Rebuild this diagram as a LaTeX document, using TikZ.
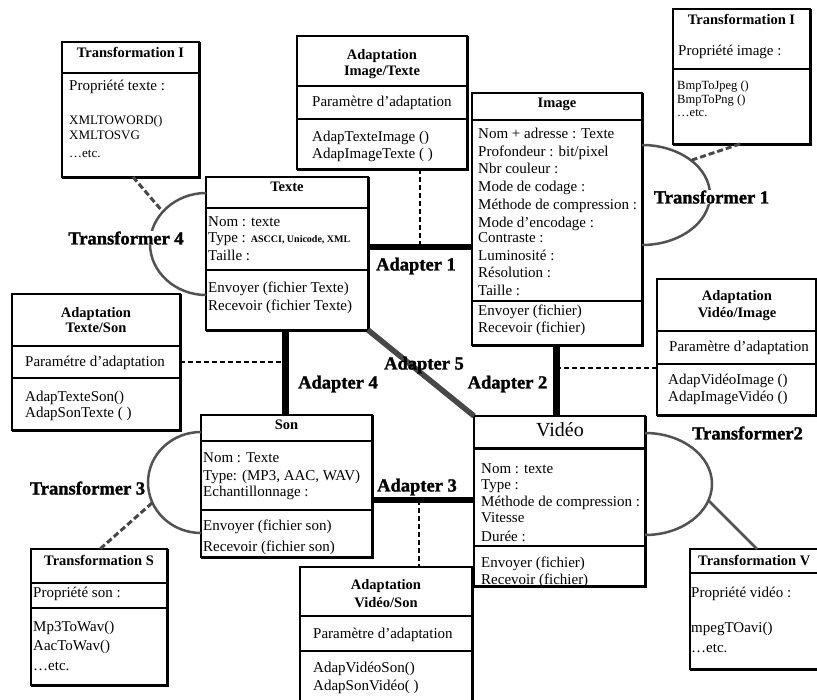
\documentclass[tikz,border=0pt]{standalone}
\usepackage{fontspec}
\setmainfont{Liberation Serif}
\newfontfamily\heavyfont[FakeBold=1.5]{Liberation Serif}
\begin{document}
\begin{tikzpicture}[x=1pt,y=-1pt,
  box/.style={draw, rectangle, line width=1.2pt, inner sep=0pt, outer sep=0pt},
  sepline/.style={line width=1.1pt},
  txt/.style={anchor=base west, inner sep=0pt, font=\fontsize{15}{17}\selectfont},
  ctxt/.style={anchor=base, inner sep=0pt, font=\fontsize{15}{17}\selectfont},
  smalltxt/.style={anchor=base west, inner sep=0pt, font=\fontsize{12.5}{14}\selectfont},
  ttl/.style={anchor=base, inner sep=0pt, font=\bfseries\fontsize{14.5}{17}\selectfont},
  lbl/.style={anchor=base, inner sep=0.5pt, font=\heavyfont\bfseries\fontsize{18.5}{20}\selectfont},
  adapter/.style={line width=6pt},
  adapterv/.style={line width=7pt},
  adapfive/.style={line width=5.5pt, draw=black!72},
  trans/.style={line width=2.5pt, draw=black!68},
  transdash/.style={line width=3pt, draw=black!72, dash pattern=on 6pt off 3pt},
  adash/.style={line width=2pt, dash pattern=on 5pt off 3pt}]
\newcommand\umlbox[5]{%
  \node[box, minimum width={#4-#2}, minimum height={#5-#3}, anchor=north west] (#1) at (#2,#3) {};
  \draw[line width=1.3pt] ([xshift=1pt]#1.north east) -- ([shift={(1pt,-1pt)}]#1.south east) -- ([yshift=-1pt]#1.south west);}
\newcommand\sepat[2]{\draw[sepline] (#1.west |- 0,#2) -- (#1.east |- 0,#2);}
\useasboundingbox (0,0) rectangle (817,700);
\clip (0,0) rectangle (817,700);
\fill[white] (0,0) rectangle (817,700);

% ---- Transformation I (texte)
\umlbox{trI}{62}{42}{199}{177}
\sepat{trI}{73}
\node[ttl] (trIt) at (130.5,58) {Transformation I};
\node[txt] (trI1) at (69,91) {Propriété texte :};
\node[txt,font=\fontsize{13}{15}\selectfont] (trI2) at (69,125) {XMLTOWORD()};
\node[txt,font=\fontsize{13}{15}\selectfont] (trI3) at (69,140) {XMLTOSVG};
\node[txt,font=\fontsize{13}{15}\selectfont] (trI4) at (69,158) {…etc.};

% ---- Adaptation Image/Texte
\umlbox{adIT}{297}{36}{467}{169}
\sepat{adIT}{86}
\sepat{adIT}{119}
\node[ttl] (adITt1) at (382,60) {Adaptation};
\node[ttl] (adITt2) at (382,76) {Image/Texte};
\node[txt] (adIT1) at (312,107) {Paramètre d’adaptation};
\node[txt] (adIT2) at (312,142) {AdapTexteImage ()};
\node[txt] (adIT3) at (312,159) {AdapImageTexte ( )};

% ---- Image
\umlbox{image}{472}{93}{642}{345}
\sepat{image}{120}
\sepat{image}{301}
\node[ttl] (imaget) at (557,108) {Image};
\node[txt] (im1) at (478,138.5) {Nom + adresse : Texte};
\node[txt] (im2) at (478,156.5) {Profondeur : bit/pixel};
\node[txt] (im3) at (478,173.5) {Nbr couleur :};
\node[txt] (im4) at (478,191.5) {Mode de codage :};
\node[txt] (im5) at (478,209.5) {Méthode de compression :};
\node[txt] (im6) at (478,227.5) {Mode d’encodage :};
\node[txt] (im7) at (478,242.5) {Contraste :};
\node[txt] (im8) at (478,260.5) {Luminosité :};
\node[txt] (im9) at (478,277.5) {Résolution :};
\node[txt] (im10) at (478,295.5) {Taille :};
\node[txt] (im11) at (478,315.5) {Envoyer (fichier)};
\node[txt] (im12) at (478,332.5) {Recevoir (fichier)};

% ---- Transformation I (image)
\umlbox{trImg}{673}{9}{810}{144}
\sepat{trImg}{69}
\node[ttl] (trImgt) at (741.5,25) {Transformation I};
\node[txt] (trImg1) at (678,56) {Propriété image :};
\node[smalltxt] (trImg2) at (677,90) {BmpToJpeg ()};
\node[smalltxt] (trImg3) at (677,104) {BmpToPng ()};
\node[smalltxt] (trImg4) at (677,117) {…etc.};

% ---- Texte
\umlbox{texte}{206}{177}{368}{330}
\sepat{texte}{208}
\sepat{texte}{270}
\node[ttl] (textet) at (287,192) {Texte};
\node[txt] (tx1) at (208,226.5) {Nom : texte};
\node[txt] (tx2) at (208,242.5) {Type : {\bfseries\fontsize{10}{12}\selectfont ASCCI, Unicode, XML}};
\node[txt] (tx3) at (208,260.5) {Taille :};
\node[txt] (tx4) at (208,292.5) {Envoyer (fichier Texte)};
\node[txt] (tx5) at (208,311) {Recevoir (fichier Texte)};

% ---- Adaptation Texte/Son
\umlbox{adTS}{12}{294}{180}{430}
\sepat{adTS}{346}
\sepat{adTS}{378}
\node[ttl] (adTSt1) at (96,318) {Adaptation};
\node[ttl] (adTSt2) at (96,333) {Texte/Son};
\node[ctxt] (adTS1) at (95,367) {Paramétre d’adaptation};
\node[txt] (adTS2) at (25,401.5) {AdapTexteSon()};
\node[txt] (adTS3) at (25,417.5) {AdapSonTexte ( )};

% ---- Son
\umlbox{son}{201}{415}{372}{557}
\sepat{son}{441}
\sepat{son}{510}
\node[ttl] (sont) at (286.5,430) {Son};
\node[txt] (so1) at (203,462.5) {Nom : Texte};
\node[txt] (so2) at (203,480.5) {Type: (MP3, AAC, WAV)};
\node[txt] (so3) at (203,496.5) {Echantillonnage :};
\node[txt] (so4) at (203,530.5) {Envoyer (fichier son)};
\node[txt] (so5) at (203,551) {Recevoir (fichier son)};

% ---- Transformation S
\umlbox{trS}{31}{549}{167}{685}
\sepat{trS}{583}
\sepat{trS}{608}
\node[ttl] (trSt) at (99,565) {Transformation S};
\node[txt] (trS1) at (33,597) {Propriété son :};
\node[txt] (trS2) at (33,631.5) {Mp3ToWav()};
\node[txt] (trS3) at (33,650) {AacToWav()};
\node[txt] (trS4) at (33,670) {…etc.};

% ---- Adaptation Vidéo/Son
\umlbox{adVS}{300}{567}{472}{715}
\sepat{adVS}{616}
\sepat{adVS}{651}
\node[ttl] (adVSt1) at (386,589) {Adaptation};
\node[ttl] (adVSt2) at (386,607) {Vidéo/Son};
\node[txt] (adVS1) at (313,638) {Paramètre d’adaptation};
\node[txt] (adVS2) at (313,672) {AdapVidéoSon()};
\node[txt] (adVS3) at (313,690) {AdapSonVidéo( )};

% ---- Vidéo
\umlbox{video}{474}{416}{645}{586}
\draw[line width=2.5pt] (video.west |- 0,448.5) -- (video.east |- 0,448.5);
\sepat{video}{546}
\node[anchor=base, inner sep=0pt, font=\fontsize{20}{22}\selectfont] (videot) at (560,437) {Vidéo};
\node[txt] (vi1) at (481,473.5) {Nom : texte};
\node[txt] (vi2) at (481,489.5) {Type :};
\node[txt] (vi3) at (481,506.5) {Méthode de compression :};
\node[txt] (vi4) at (481,522.5) {Vitesse};
\node[txt] (vi5) at (481,541.5) {Durée :};
\node[txt] (vi6) at (481,567) {Envoyer (fichier)};
\node[txt] (vi7) at (481,584.5) {Recevoir (fichier)};

% ---- Transformation V
\umlbox{trV}{690}{549}{822}{669}
\sepat{trV}{573}
\node[ttl,anchor=base west] (trVt) at (698,565) {Transformation V};
\node[txt] (trV1) at (691,597) {Propriété vidéo :};
\node[txt] (trV2) at (691,632) {mpegTOavi()};
\node[txt] (trV3) at (691,652) {…etc.};

% ---- Adaptation Vidéo/Image
\umlbox{adVI}{657}{279}{816}{415}
\sepat{adVI}{331}
\sepat{adVI}{364}
\node[ttl] (adVIt1) at (737,301) {Adaptation};
\node[ttl] (adVIt2) at (737,318) {Vidéo/Image};
\node[txt] (adVI1) at (669,352) {Paramètre d’adaptation};
\node[txt] (adVI2) at (668,385) {AdapVidéoImage ()};
\node[txt] (adVI3) at (668,402) {AdapImageVidéo ()};

% ---- Adapters
\coordinate (a1p) at (420,247);
\draw[adapter] (texte.east |- a1p) -- (image.west |- a1p);
\draw[adash] (adIT.south -| a1p) -- (a1p);
\coordinate (a4p) at (285,362);
\draw[adapterv] (texte.south -| a4p) -- (son.north -| a4p);
\draw[adash] (adTS.east |- a4p) -- (a4p);
\coordinate (a2p) at (556,368);
\draw[adapterv] (image.south -| a2p) -- (video.north -| a2p);
\draw[adash] (a2p) -- (adVI.west |- a2p);
\coordinate (a3p) at (419,500);
\draw[adapter] (son.east |- a3p) -- (video.west |- a3p);
\draw[adash] (a3p) -- (adVS.north -| a3p);
\draw[adapfive] (texte.south east) -- (video.north west);

% ---- Transformers
\coordinate (t4l) at (150,244);
\draw[trans] (texte.west |- 0,193) .. controls (175.5,193) and (150,216) .. (t4l) .. controls (150,272) and (175.5,295) .. (texte.west |- 0,295);
\coordinate (t4a) at (163,212);
\draw[transdash] (trI.south -| 133,0) -- (t4a);

\coordinate (t1r) at (710,195);
\draw[trans] (image.east |- 0,145) .. controls (679.5,145) and (710,167.4) .. (t1r) .. controls (710,222.6) and (679.5,245) .. (image.east |- 0,245);
\coordinate (t1a) at (692,160);
\draw[transdash] (trImg.south -| 740,0) -- (t1a);

\coordinate (t2r) at (712,484);
\draw[trans] (video.east |- 0,433) .. controls (682,433) and (712,455.8) .. (t2r) .. controls (712,512.2) and (682,535) .. (video.east |- 0,535);
\coordinate (t2a) at (708,500);
\draw[trans] (t2a) -- (trV.north -| 757,0);

\coordinate (t3l) at (148,482.5);
\draw[trans] (son.west |- 0,432) .. controls (171.7,432) and (148,454.6) .. (t3l) .. controls (148,510.4) and (171.7,533) .. (son.west |- 0,533);
\coordinate (t3a) at (152,503);
\draw[transdash] (t3a) -- (trS.north -| 100,0);

% ---- Labels
\node[lbl, fill=white] (lT4) at (126,244.5) {Transformer 4};
\node[lbl, fill=white] (lT1) at (711.5,203.5) {Transformer 1};
\node[lbl, fill=white] (lT2) at (747.5,439.5) {Transformer2};
\node[lbl, fill=white] (lT3) at (87.5,494.5) {Transformer 3};
\node[lbl] (lA1) at (416,270.5) {Adapter 1};
\node[lbl] (lA4) at (338,388.5) {Adapter 4};
\node[lbl] (lA5) at (424,369.5) {Adapter 5};
\node[lbl] (lA2) at (507.5,388.5) {Adapter 2};
\node[lbl] (lA3) at (417,491.5) {Adapter 3};
\end{tikzpicture}
\end{document}
